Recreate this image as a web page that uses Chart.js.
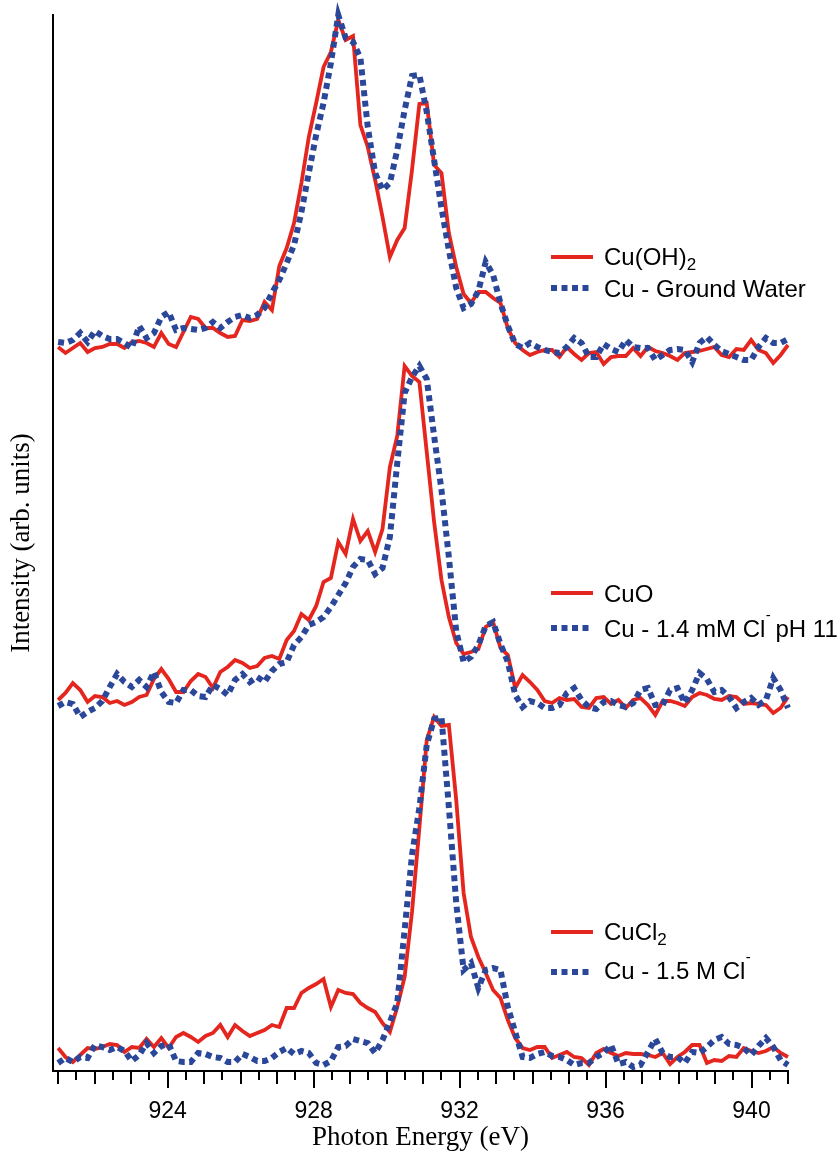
<!DOCTYPE html>
<html>
<head>
<meta charset="utf-8">
<script src="https://cdn.jsdelivr.net/npm/chart.js@4.4.1/dist/chart.umd.min.js"></script>
<style>
html,body{margin:0;padding:0;background:#ffffff;}
canvas{display:block;}
</style>
</head>
<body>
<canvas id="c" width="840" height="1156" style="width:840px;height:1156px"></canvas>
<script>
// Photon energy (eV)
const energy = [
921.000, 921.202, 921.404, 921.606, 921.808, 922.010, 922.212, 922.414, 922.616, 922.818,
923.020, 923.222, 923.424, 923.626, 923.828, 924.030, 924.232, 924.434, 924.636, 924.838,
925.040, 925.242, 925.444, 925.646, 925.848, 926.051, 926.253, 926.455, 926.657, 926.859,
927.061, 927.263, 927.465, 927.667, 927.869, 928.071, 928.273, 928.475, 928.677, 928.879,
929.081, 929.283, 929.485, 929.687, 929.889, 930.091, 930.293, 930.495, 930.697, 930.899,
931.101, 931.303, 931.505, 931.707, 931.909, 932.111, 932.313, 932.515, 932.717, 932.919,
933.121, 933.323, 933.525, 933.727, 933.929, 934.131, 934.333, 934.535, 934.737, 934.939,
935.141, 935.343, 935.545, 935.747, 935.949, 936.152, 936.354, 936.556, 936.758, 936.960,
937.162, 937.364, 937.566, 937.768, 937.970, 938.172, 938.374, 938.576, 938.778, 938.980,
939.182, 939.384, 939.586, 939.788, 939.990, 940.192, 940.394, 940.596, 940.798, 941.000];

// Intensities (arb. units, offset stacked as in the figure)
const cuOH2 = [
724, 718, 723, 728, 719, 723, 724, 727, 727, 723,
729, 730, 728, 724, 738, 727, 724, 739, 754, 752,
743, 743, 738, 734, 735, 751, 750, 752, 769, 761,
805, 823, 848, 888, 934, 968, 1004, 1019, 1051, 1031,
1035, 946, 924, 891, 854, 814, 831, 843, 901, 967,
968, 906, 898, 838, 804, 777, 768, 779, 779, 773,
768, 743, 728, 721, 716, 719, 721, 721, 714, 724,
717, 711, 718, 719, 707, 714, 715, 715, 723, 715,
724, 720, 718, 715, 711, 718, 719, 720, 722, 724,
716, 714, 722, 721, 731, 721, 718, 708, 716, 726];

const cuGroundWater = [
729, 728, 731, 738, 729, 740, 735, 732, 732, 728,
723, 745, 733, 738, 754, 759, 741, 743, 742, 741,
743, 749, 743, 749, 754, 756, 753, 756, 763, 778,
791, 808, 826, 859, 898, 936, 968, 1008, 1056, 1033,
1029, 1013, 944, 898, 881, 888, 921, 961, 995, 996,
959, 911, 863, 821, 783, 763, 767, 780, 809, 796,
768, 745, 727, 723, 728, 724, 721, 719, 718, 724,
733, 728, 714, 714, 727, 722, 719, 731, 724, 723,
723, 711, 716, 721, 722, 721, 709, 728, 734, 726,
720, 717, 714, 711, 711, 724, 733, 728, 728, 732];

const cuO = [
371, 378, 388, 381, 369, 375, 374, 368, 370, 366,
369, 374, 376, 392, 402, 392, 379, 379, 390, 397,
394, 383, 399, 404, 411, 408, 403, 405, 413, 415,
412, 431, 440, 457, 451, 465, 489, 493, 529, 517,
552, 530, 540, 519, 542, 604, 635, 705, 695, 689,
619, 549, 491, 454, 428, 417, 419, 422, 444, 449,
423, 416, 383, 396, 389, 381, 370, 368, 373, 371,
372, 364, 363, 373, 374, 367, 371, 363, 371, 373,
366, 356, 370, 370, 368, 365, 374, 378, 376, 372,
371, 375, 374, 367, 368, 367, 366, 358, 363, 374];

const cu14mMCl = [
365, 369, 367, 354, 359, 363, 370, 384, 397, 389,
384, 391, 384, 399, 379, 369, 368, 381, 381, 375,
374, 386, 382, 376, 391, 397, 389, 394, 389, 400,
407, 409, 426, 434, 446, 449, 454, 464, 476, 488,
504, 512, 511, 497, 503, 534, 608, 678, 694, 705,
692, 635, 581, 514, 440, 409, 414, 426, 445, 449,
427, 409, 376, 364, 370, 368, 363, 363, 366, 378,
383, 371, 364, 362, 369, 370, 366, 364, 368, 381,
383, 366, 366, 381, 383, 368, 381, 398, 392, 379,
381, 374, 363, 369, 373, 366, 371, 393, 381, 363];

const cuCl2 = [
23, 14, 9, 16, 23, 22, 24, 27, 26, 19,
24, 23, 32, 24, 33, 23, 34, 38, 34, 29,
35, 38, 46, 34, 46, 40, 35, 38, 41, 46,
44, 63, 63, 78, 83, 87, 92, 64, 81, 78,
77, 68, 63, 59, 48, 39, 64, 94, 159, 243,
331, 354, 345, 346, 271, 178, 134, 114, 98, 81,
73, 51, 33, 23, 21, 24, 24, 13, 16, 19,
14, 13, 6, 18, 22, 18, 15, 18, 17, 17,
16, 14, 18, 7, 14, 19, 26, 26, 8, 11,
10, 15, 14, 23, 20, 18, 20, 24, 18, 14];

const cu15MCl = [
8, 13, 9, 14, 13, 26, 24, 21, 24, 20,
10, 16, 28, 18, 25, 27, 10, 9, 9, 18,
17, 14, 13, 9, 9, 17, 14, 10, 10, 13,
19, 23, 17, 20, 18, 8, 6, 10, 24, 25,
32, 30, 28, 18, 31, 49, 68, 141, 216, 263,
326, 352, 354, 264, 168, 101, 108, 83, 101, 103,
101, 64, 39, 14, 13, 17, 19, 15, 14, 11,
6, 8, 8, 14, 18, 26, 7, 9, 4, 6,
19, 32, 18, 14, 14, 8, 19, 18, 24, 31,
34, 27, 26, 23, 16, 25, 33, 24, 11, 6];

const xTickLabels = [924, 928, 932, 936, 940];
const seriesNames = ['Cu(OH)_2', 'Cu - Ground Water', 'CuO', 'Cu - 1.4 mM Cl^- pH 11', 'CuCl_2', 'Cu - 1.5 M Cl^-'];

const RED = '#e4261f';
const BLUE = '#2b4799';
const SANS = '"Liberation Sans", Arial, Helvetica, sans-serif';
const SERIF = '"Liberation Serif", "Times New Roman", Times, serif';

function pts(ys) { return ys.map((v, i) => ({x: energy[i], y: v})); }

const seriesData = [cuOH2, cuGroundWater, cuO, cu14mMCl, cuCl2, cu15MCl];
const datasets = seriesData.map((ys, k) => {
  const red = k % 2 === 0;
  return {
    label: seriesNames[k],
    data: pts(ys),
    borderColor: red ? RED : BLUE,
    borderWidth: red ? 3.8 : 6,
    borderDash: red ? [] : [6, 4.5],
    borderCapStyle: 'butt',
    pointRadius: 0,
    tension: 0,
    fill: false,
    clip: false,
    order: red ? 1 : 0
  };
});

// legend rows: [series index, line y, text baseline y]
const legendRows = [[0, 257, 265], [1, 288, 297], [2, 593, 602], [3, 628, 637], [4, 932, 940], [5, 972, 979]];

function drawRich(ctx, str, x, y) {
  const parts = str.split(/(_[0-9]|\^-)/);
  for (const p of parts) {
    if (!p) continue;
    if (p[0] === '_') {
      ctx.font = '17px ' + SANS;
      ctx.fillText(p.slice(1), x, y + 5);
      x += ctx.measureText(p.slice(1)).width;
    } else if (p[0] === '^') {
      ctx.font = '15px ' + SANS;
      ctx.fillText('-', x + 0.5, y - 17);
      x += ctx.measureText('-').width * 0.7;
    } else {
      ctx.font = '24px ' + SANS;
      ctx.fillText(p, x, y);
      x += ctx.measureText(p).width;
    }
  }
}

const decor = {
  id: 'decor',
  afterDraw(chart) {
    const ctx = chart.ctx;
    const xs = chart.scales.x;
    const y0 = chart.chartArea.bottom;
    ctx.save();
    // tick marks: long at labelled values, medium at whole eV, short at half eV
    ctx.strokeStyle = '#000';
    ctx.lineWidth = 2;
    for (let k = 0; k <= 40; k++) {
      const v = 921 + k * 0.5;
      const px = Math.round(xs.getPixelForValue(v));
      const len = xTickLabels.includes(v) ? 17 : (Number.isInteger(v) ? 13 : 9);
      ctx.beginPath();
      ctx.moveTo(px, y0);
      ctx.lineTo(px, y0 + len);
      ctx.stroke();
    }
    // legends
    ctx.textBaseline = 'alphabetic';
    ctx.textAlign = 'left';
    ctx.fillStyle = '#000';
    for (const [k, ly, ty] of legendRows) {
      const ds = chart.data.datasets[k];
      ctx.strokeStyle = ds.borderColor;
      ctx.lineWidth = ds.borderWidth;
      ctx.lineCap = 'butt';
      ctx.setLineDash(ds.borderDash);
      ctx.beginPath();
      ctx.moveTo(551, ly);
      ctx.lineTo(593, ly);
      ctx.stroke();
      ctx.setLineDash([]);
      drawRich(ctx, seriesNames[k], 604, ty);
    }
    ctx.restore();
  }
};

new Chart(document.getElementById('c'), {
  type: 'line',
  data: { datasets },
  options: {
    responsive: false,
    devicePixelRatio: 1,
    animation: false,
    events: [],
    layout: { padding: { top: 15, right: 52, left: 0, bottom: 0 } },
    plugins: { legend: { display: false }, tooltip: { enabled: false } },
    scales: {
      x: {
        type: 'linear',
        min: 920.86,
        max: 941.0,
        afterFit: (s) => { s.height = 85; },
        afterBuildTicks: (s) => { s.ticks = xTickLabels.map(v => ({ value: v })); },
        grid: { display: true, drawOnChartArea: false, drawTicks: true, tickLength: 17, tickColor: 'rgba(0,0,0,0)' },
        border: { display: true, color: '#000', width: 2 },
        ticks: { color: '#000', padding: 10, maxRotation: 0, autoSkip: false, font: { family: SANS, size: 23 }, callback: (v) => String(v) },
        title: { display: true, text: 'Photon Energy (eV)', color: '#000', font: { family: SERIF, size: 27 }, padding: { top: 0, bottom: 2 } }
      },
      y: {
        type: 'linear',
        min: 0,
        max: 1056,
        afterFit: (s) => { s.width = 53; },
        grid: { display: false },
        border: { display: true, color: '#000', width: 2 },
        ticks: { display: false },
        title: { display: true, text: 'Intensity (arb. units)', color: '#000', font: { family: SERIF, size: 27 }, padding: { top: 6, bottom: 0 } }
      }
    }
  },
  plugins: [decor]
});
</script>
</body>
</html>
